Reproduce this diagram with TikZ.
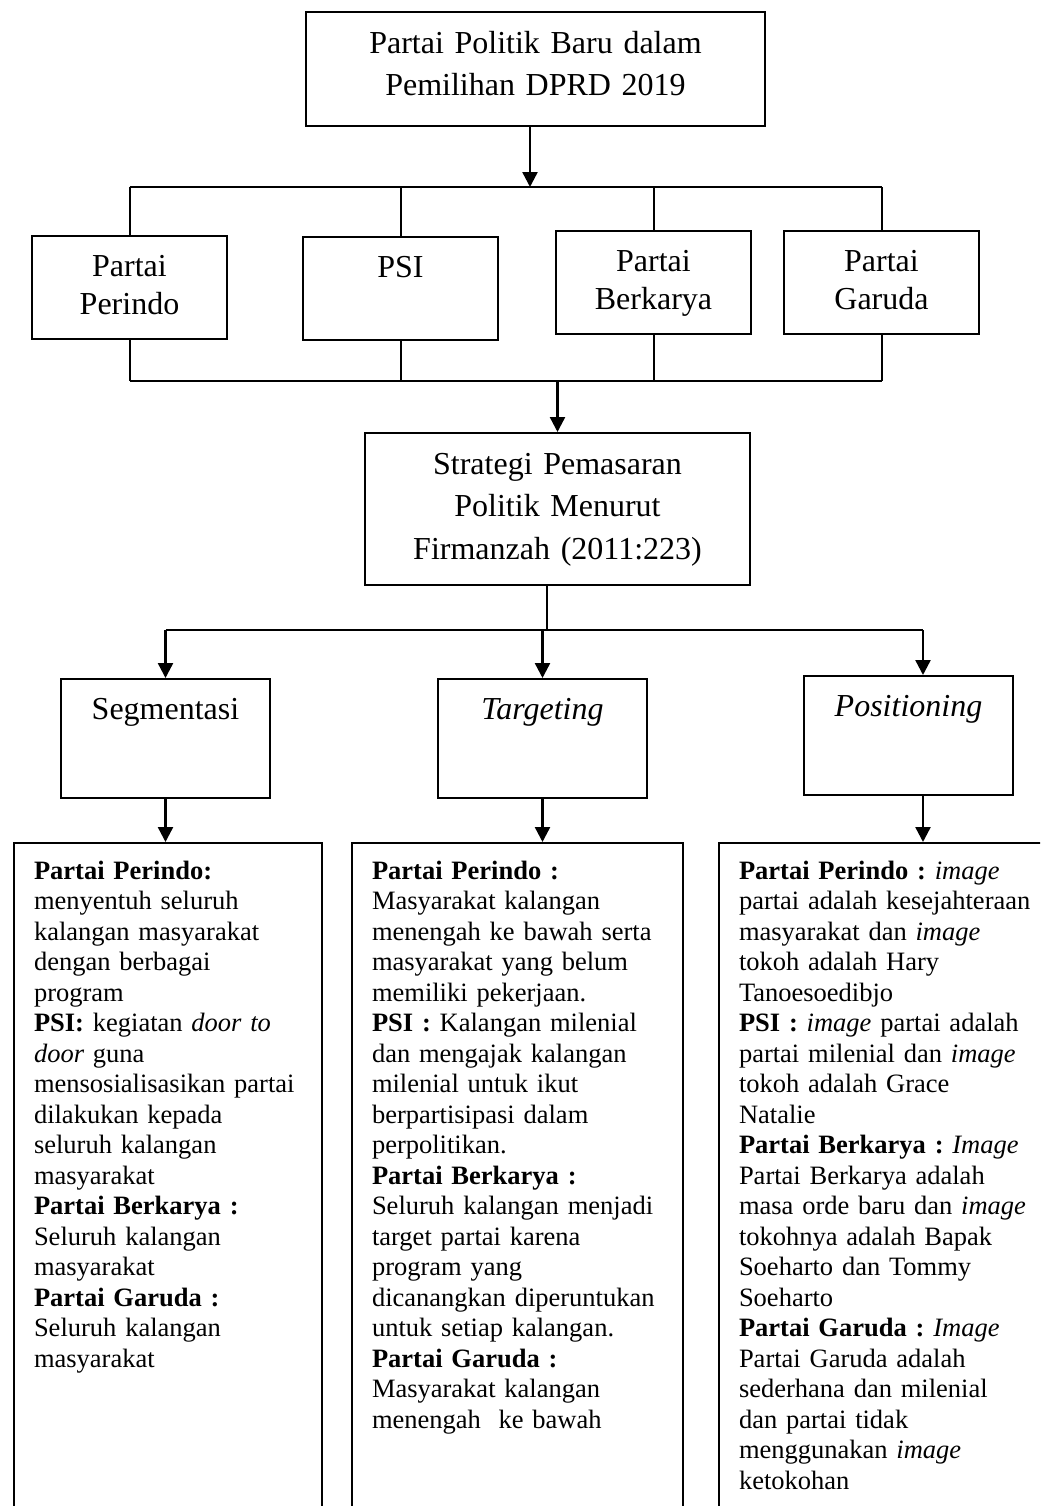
\documentclass[tikz,border=0pt]{standalone}
\usepackage{fontspec}
\setmainfont{Liberation Serif}
\usetikzlibrary{arrows.meta}
\frenchspacing

\begin{document}
\begin{tikzpicture}[x=0.5pt,y=-0.5pt,
  box/.style={draw,line width=1pt,anchor=north west,inner xsep=0pt,inner ysep=0pt,
    align=center,font=\fontsize{16pt}{19pt}\selectfont},
  party/.style={box,text width=97.5pt,text height=20pt,text depth=31.5pt},
  level/.style={box,text width=104.5pt,text height=20pt,text depth=39.5pt},
  info/.style={draw,line width=1pt,anchor=north west,inner xsep=10pt,inner ysep=0pt,
    align=left,text height=18pt,text depth=326pt,
    font=\fontsize{13.25pt}{15.25pt}\selectfont},
  link/.style={line width=1pt},
  arrow/.style={line width=1.2pt,-{Triangle[length=7.5pt,width=7.5pt]}}]
  \useasboundingbox (0,0) rectangle (1040,1506);
  \clip (0,0) rectangle (1040,1506);

  % top
  \node[box,text width=229.5pt,text height=20.5pt,text depth=36.5pt,
    font=\fontsize{16pt}{21pt}\selectfont] (top) at (305,11)
    {Partai Politik Baru dalam\\Pemilihan DPRD 2019};

  % parties
  \node[party] (perindo)  at (31,235)  {Partai\\Perindo};
  \node[party] (psi)      at (302,236) {PSI};
  \node[party] (berkarya) at (555,230) {Partai\\Berkarya};
  \node[party] (garuda)   at (783,230) {Partai\\Garuda};

  \coordinate (split) at (530,187);
  \coordinate (join)  at (555,381);
  \draw[arrow] (split |- top.south) -- (split);
  \draw[link] (perindo.north |- split) -- (garuda.north |- split);
  \draw[link] (perindo.south |- join) -- (garuda.south |- join);
  \foreach \p in {perindo,psi,berkarya,garuda}
  {
    \draw[link] (\p.north |- split) -- (\p.north);
    \draw[link] (\p.south) -- (\p.south |- join);
  }

  % strategy
  \node[box,text width=192.5pt,text height=20.5pt,text depth=55.5pt,
    font=\fontsize{16pt}{21.25pt}\selectfont] (strategy) at (364,432)
    {Strategi Pemasaran\\Politik Menurut\\Firmanzah (2011:223)};
  \draw[arrow] (strategy.north |- join) -- (strategy.north);

  % STP
  \node[level] (seg) at (60,678)  {Segmentasi};
  \node[level] (tgt) at (437,678) {\textit{Targeting}};
  \node[level] (pos) at (803,675) {\textit{Positioning}};

  \coordinate (fork)  at (547,630);
  \coordinate (posin) at (923,630);
  \draw[link] (fork |- strategy.south) -- (fork);
  \draw[link] (seg.north |- fork) -- (posin);
  \draw[arrow] (seg.north |- fork) -- (seg.north);
  \draw[arrow] (tgt.north |- fork) -- (tgt.north);
  \draw[arrow] (posin) -- (posin |- pos.north);

  % details
  \node[info,text width=134pt] (seginfo) at (13,842)
    {\textbf{Partai Perindo:}\\
     menyentuh seluruh\\
     kalangan masyarakat\\
     dengan berbagai\\
     program\\
     \textbf{PSI:} kegiatan \textit{door to}\\
     \textit{door} guna\\
     mensosialisasikan partai\\
     dilakukan kepada\\
     seluruh kalangan\\
     masyarakat\\
     \textbf{Partai Berkarya :}\\
     Seluruh kalangan\\
     masyarakat\\
     \textbf{Partai Garuda :}\\
     Seluruh kalangan\\
     masyarakat};
  \node[info,text width=145.5pt] (tgtinfo) at (351,842)
    {\textbf{Partai Perindo :}\\
     Masyarakat kalangan\\
     menengah ke bawah serta\\
     masyarakat yang belum\\
     memiliki pekerjaan.\\
     \textbf{PSI :} Kalangan milenial\\
     dan mengajak kalangan\\
     milenial untuk ikut\\
     berpartisipasi dalam\\
     perpolitikan.\\
     \textbf{Partai Berkarya :}\\
     Seluruh kalangan menjadi\\
     target partai karena\\
     program yang\\
     dicanangkan diperuntukan\\
     untuk setiap kalangan.\\
     \textbf{Partai Garuda :}\\
     Masyarakat kalangan\\
     menengah\ \ ke bawah};
  \node[info,text width=151pt] (posinfo) at (718,842)
    {\textbf{Partai Perindo :} \textit{image}\\
     partai adalah kesejahteraan\\
     masyarakat dan \textit{image}\\
     tokoh adalah Hary\\
     Tanoesoedibjo\\
     \textbf{PSI :} \textit{image} partai adalah\\
     partai milenial dan \textit{image}\\
     tokoh adalah Grace\\
     Natalie\\
     \textbf{Partai Berkarya :} \textit{Image}\\
     Partai Berkarya adalah\\
     masa orde baru dan \textit{image}\\
     tokohnya adalah Bapak\\
     Soeharto dan Tommy\\
     Soeharto\\
     \textbf{Partai Garuda :} \textit{Image}\\
     Partai Garuda adalah\\
     sederhana dan milenial\\
     dan partai tidak\\
     menggunakan \textit{image}\\
     ketokohan};

  \draw[arrow] (seg.south) -- (seg.south |- seginfo.north);
  \draw[arrow] (tgt.south) -- (tgt.south |- tgtinfo.north);
  \draw[arrow] (posin |- pos.south) -- (posin |- posinfo.north);
\end{tikzpicture}
\end{document}
